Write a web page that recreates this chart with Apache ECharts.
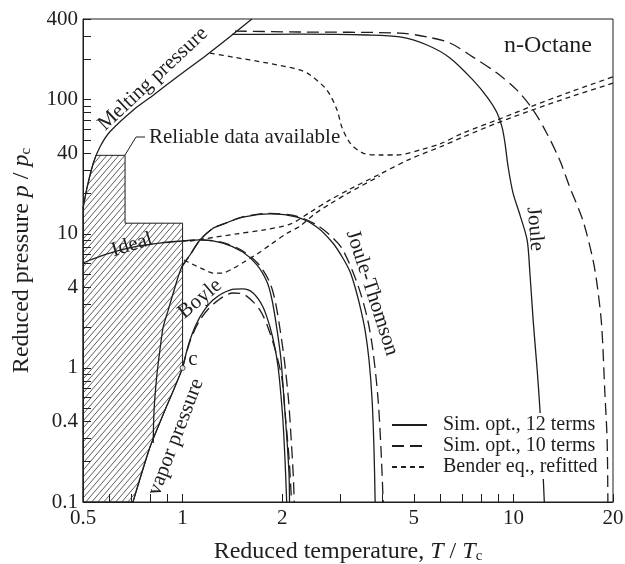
<!DOCTYPE html>
<html>
<head>
<meta charset="utf-8">
<script src="https://cdn.jsdelivr.net/npm/echarts@6/dist/echarts.min.js"></script>
<style>
  html, body { margin: 0; padding: 0; background: #fff; }
  #chart { width: 625px; height: 564px; }
</style>
</head>
<body>
<div id="chart"></div>
<script>
// axis ticks / labels (real values, axes are drawn in log10 space)
const xTickVals = [0.5, 0.6, 0.7, 0.8, 0.9, 1, 2, 3, 4, 5, 6, 7, 8, 9, 10, 20];
const xLabelVals = [0.5, 1, 2, 5, 10, 20];
const yTickVals = [0.1, 0.2, 0.3, 0.4, 0.5, 0.6, 0.7, 0.8, 0.9, 1, 2, 3, 4, 5, 6, 7, 8, 9,
  10, 20, 30, 40, 50, 60, 70, 80, 90, 100, 200, 300, 400];
const yLabelVals = [0.1, 0.4, 1, 4, 10, 40, 100, 400];

// [T/Tc, p/pc]
const melting = [[0.5, 15.5], [0.515, 22.5], [0.537, 33.6], [0.563, 44.6], [0.603, 57.7], [0.71, 84],
  [0.815, 108], [0.98, 153], [1.18, 215], [1.39, 295], [1.62, 400]];
const vapor = [[0.708, 0.1], [0.797, 0.257], [0.885, 0.485], [0.942, 0.696], [1.0, 1.0]];
const critPoint = [[1.0, 1.0]];
const reliable = [[0.5, 0.1], [0.5, 15.5], [0.515, 22.5], [0.537, 33.6], [0.547, 38.5], [0.67, 38.5],
  [0.67, 12], [1.0, 12], [1.0, 1.0], [0.942, 0.696], [0.885, 0.485], [0.797, 0.257], [0.708, 0.1]];

// Sim. opt., 12 terms
const ideal12 = [[0.5, 6.06], [0.525, 6.38], [0.603, 7.19], [0.708, 7.97], [0.854, 8.53], [1.0, 8.84],
  [1.129, 9.0], [1.325, 8.53], [1.52, 7.31], [1.68, 5.85], [1.80, 4.37], [1.864, 3.21], [1.93, 1.92],
  [1.984, 1.145], [2.026, 0.576], [2.068, 0.29], [2.098, 0.159], [2.105, 0.1]];
const boyle12 = [[1.0, 1.0], [1.053, 1.615], [1.129, 2.40], [1.236, 3.21], [1.391, 3.81], [1.52, 3.88],
  [1.633, 3.62], [1.75, 2.85], [1.837, 2.02], [1.90, 1.43], [1.943, 1.02], [1.97, 0.746], [2.01, 0.409],
  [2.04, 0.206], [2.064, 0.1]];
const jt12 = [[0.815, 0.275], [0.82, 0.485], [0.835, 0.855], [0.854, 1.36], [0.874, 2.02], [0.905, 2.70],
  [0.937, 3.62], [0.994, 5.65], [1.053, 6.95], [1.129, 9.0], [1.236, 11.0], [1.325, 11.8], [1.52, 13.3],
  [1.84, 14.1], [2.22, 13.3], [2.55, 11.2], [2.85, 8.5], [3.05, 6.6], [3.21, 5.19], [3.34, 3.81],
  [3.46, 2.70], [3.56, 1.92], [3.66, 1.15], [3.74, 0.576], [3.79, 0.244], [3.82, 0.1]];
const joule12 = [[1.41, 307], [2.26, 308], [3.61, 304], [4.54, 294], [5.48, 256], [6.43, 205], [7.55, 140],
  [8.32, 105], [8.92, 80], [9.24, 62.5], [9.43, 47.5], [9.64, 31.5], [9.97, 20.2], [10.47, 13.8],
  [11.0, 9.0], [11.2, 5.4], [11.47, 2.28], [11.8, 0.96], [12.03, 0.485], [12.2, 0.244], [12.4, 0.1]];

// Sim. opt., 10 terms
const ideal10 = [[1.0, 8.84], [1.129, 9.0], [1.325, 8.6], [1.52, 7.45], [1.70, 5.9], [1.83, 4.4],
  [1.90, 3.25], [1.97, 1.95], [2.03, 1.15], [2.09, 0.58], [2.13, 0.29], [2.16, 0.16], [2.175, 0.1]];
const boyle10 = [[1.0, 1.0], [1.053, 1.58], [1.129, 2.28], [1.236, 2.98], [1.42, 3.62], [1.544, 3.50],
  [1.714, 2.70], [1.837, 1.82], [1.93, 1.21], [2.0, 0.812], [2.05, 0.409], [2.10, 0.206], [2.135, 0.1]];
const jt10 = [[0.994, 5.65], [1.053, 6.95], [1.129, 9.0], [1.236, 11.0], [1.325, 11.8], [1.52, 13.4],
  [1.84, 14.2], [2.22, 13.5], [2.55, 11.6], [2.85, 9.3], [3.05, 7.6], [3.37, 4.3], [3.61, 2.40],
  [3.76, 1.36], [3.90, 0.576], [3.98, 0.244], [4.04, 0.1]];
const joule10 = [[1.44, 325], [2.26, 320], [4.54, 314], [5.48, 294], [6.43, 265], [7.55, 208], [8.92, 158],
  [10.25, 118], [11.47, 84], [12.6, 56.5], [13.8, 35.5], [14.8, 22.3], [16.2, 12.7], [17.4, 6.4],
  [18.0, 3.8], [18.5, 2.0], [18.9, 0.65], [19.2, 0.29], [19.3, 0.1]];

// Bender eq., refitted
const idealB = [[1.053, 8.84], [1.153, 9.15], [1.46, 10.0], [1.75, 10.67], [2.112, 11.8], [2.43, 14.5],
  [2.79, 17.9], [3.21, 21.6], [3.95, 27.9], [4.87, 36.1], [6.0, 44.4], [7.04, 52.7], [8.92, 67.0],
  [11.2, 82.4], [14.8, 104.7], [20, 133]];
const boyleB = [[1.01, 6.38], [1.068, 5.96], [1.153, 5.46], [1.236, 5.10], [1.316, 5.10], [1.41, 5.46],
  [1.533, 6.16], [1.68, 7.07], [1.837, 8.25], [2.068, 10.1], [2.264, 11.4], [2.51, 14.1], [2.79, 16.7],
  [3.21, 20.5], [3.95, 27.0]];
const jouleB = [[1.21, 223], [1.42, 208], [1.80, 188], [2.26, 167], [2.43, 153], [2.73, 118], [2.93, 84],
  [3.03, 62.5], [3.21, 47.5], [3.51, 40], [3.95, 38.7], [4.45, 38.7], [5.33, 42.9], [6.0, 46.8],
  [7.04, 56.5], [8.92, 70.6], [11.2, 88.2], [14.8, 114], [20, 148]];

const F = '"Liberation Serif", "Times New Roman", serif';
const INK = '#1e1e1e';
const S12 = 'Sim. opt., 12 terms', S10 = 'Sim. opt., 10 terms', SB = 'Bender eq., refitted';

const lg = v => Math.log10(v);
const L = pts => pts.map(p => [lg(p[0]), lg(p[1])]);

function hatch() {
  const c = document.createElement('canvas');
  c.width = 6; c.height = 7;
  const g = c.getContext('2d');
  g.strokeStyle = '#333';
  g.lineWidth = 0.8;
  g.beginPath();
  g.moveTo(0, 7); g.lineTo(6, 0);
  g.moveTo(-1, 7 / 6); g.lineTo(1, -7 / 6);
  g.moveTo(5, 7 + 7 / 6); g.lineTo(7, 7 - 7 / 6);
  g.stroke();
  return c;
}

function curve(name, pts, dash) {
  return {
    name: name, type: 'line', data: L(pts), symbol: 'none', smooth: 0.3,
    lineStyle: { color: INK, width: 1.3, type: dash }, itemStyle: { color: INK }, z: 3
  };
}
const LONG = [12, 6], SHORT = [5, 4];

const chart = echarts.init(document.getElementById('chart'));
const fmt = v => String(+Math.pow(10, v).toPrecision(3));

const subRich = {
  a: { fontFamily: F, fontSize: 24, color: INK, lineHeight: 24 },
  i: { fontFamily: F, fontSize: 24, color: INK, lineHeight: 24, fontStyle: 'italic' },
  s: { fontFamily: F, fontSize: 15, color: INK, lineHeight: 15, padding: [15, 0, 0, 0], verticalAlign: 'bottom' }
};
const note = (text, x, y, deg, size, align) => ({
  type: 'text', x: x, y: y, rotation: (deg || 0) * Math.PI / 180, z: 10,
  style: { text: text, font: (size || 21) + 'px ' + F, fill: INK, align: align || 'center', verticalAlign: 'middle' }
});

chart.setOption({
  animation: false,
  backgroundColor: '#fff',
  grid: { left: 83, right: 12, top: 19, bottom: 62, show: true, borderColor: INK, borderWidth: 1,
    containLabel: false, outerBoundsMode: 'none' },
  xAxis: {
    type: 'value', min: lg(0.5), max: lg(20),
    name: '{a|Reduced temperature, }{i|T}{a| / }{i|T}{s|c}',
    nameLocation: 'middle', nameGap: 30,
    nameTextStyle: { fontFamily: F, fontSize: 24, color: INK, rich: subRich },
    axisLine: { show: true, onZero: false, lineStyle: { color: INK, width: 1 } },
    axisTick: { show: true, inside: true, length: 8, customValues: xTickVals.map(lg), lineStyle: { color: INK } },
    axisLabel: { customValues: xLabelVals.map(lg), formatter: fmt, fontFamily: F, fontSize: 21, color: INK, margin: 6 },
    splitLine: { show: false }
  },
  yAxis: {
    type: 'value', min: lg(0.1), max: lg(400),
    name: '{a|Reduced pressure }{i|p}{a| / }{i|p}{s|c}',
    nameLocation: 'middle', nameGap: 49, nameRotate: 90,
    nameTextStyle: { fontFamily: F, fontSize: 24, color: INK, rich: subRich },
    axisLine: { show: true, onZero: false, lineStyle: { color: INK, width: 1 } },
    axisTick: { show: true, inside: true, length: 8, customValues: yTickVals.map(lg), lineStyle: { color: INK } },
    axisLabel: { customValues: yLabelVals.map(lg), formatter: fmt, fontFamily: F, fontSize: 21, color: INK, margin: 5 },
    splitLine: { show: false }
  },
  legend: {
    data: [S12, S10, SB], orient: 'vertical', left: 388, top: 413,
    itemWidth: 35, itemHeight: 12, itemGap: 1,
    backgroundColor: '#fff', padding: [2, 3, 2, 3],
    itemStyle: { opacity: 0 },
    textStyle: { fontFamily: F, fontSize: 20, color: INK, lineHeight: 20, padding: [0, 0, 0, 11] }
  },
  series: [
    {
      name: 'Reliable', type: 'custom', z: 1, silent: true, data: [[0, 0]],
      renderItem: function (params, api) {
        return {
          type: 'polygon',
          shape: { points: L(reliable).map(p => api.coord(p)) },
          style: { fill: { image: hatch(), repeat: 'repeat' }, stroke: INK, lineWidth: 1 }
        };
      }
    },
    curve('Melting', melting, 'solid'),
    curve('Vapor', vapor, 'solid'),
    curve(S12, ideal12, 'solid'),
    curve(S12, boyle12, 'solid'),
    curve(S12, jt12, 'solid'),
    curve(S12, joule12, 'solid'),
    curve(S10, ideal10, LONG),
    curve(S10, boyle10, LONG),
    curve(S10, jt10, LONG),
    curve(S10, joule10, LONG),
    curve(SB, idealB, SHORT),
    curve(SB, boyleB, SHORT),
    curve(SB, jouleB, SHORT),
    {
      name: 'Critical', type: 'scatter', data: L(critPoint), symbol: 'circle', symbolSize: 5, z: 5,
      itemStyle: { color: '#fff', borderColor: INK, borderWidth: 1 }
    }
  ],
  graphic: [
    note('Melting pressure', 153, 79, 43),
    { type: 'polyline', z: 10, shape: { points: [[125, 155], [136, 137], [145, 137]] },
      style: { stroke: INK, lineWidth: 1, fill: null } },
    note('Reliable data available', 149, 137, 0, 21, 'left'),
    note('Ideal', 132, 245, 17),
    note('Boyle', 200, 299, 40),
    note('vapor pressure', 176, 437, 69),
    note('c', 193, 359),
    note('Joule-Thomson', 372, 293, -72),
    note('Joule', 535, 229, -85),
    note('n-Octane', 548, 46, 0, 24)
  ]
});
</script>
</body>
</html>
